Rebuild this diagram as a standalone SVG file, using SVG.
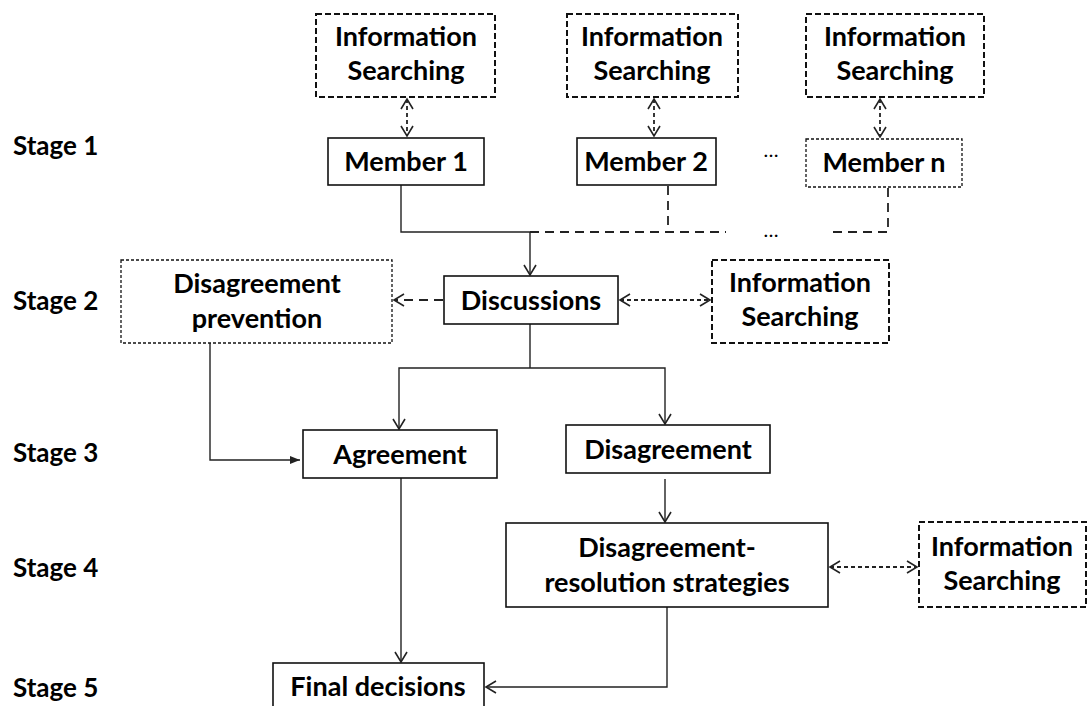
<svg xmlns="http://www.w3.org/2000/svg" width="1087" height="706" viewBox="0 0 1087 706">
  <style>
    text { font-family: Lato, "Open Sans", "Liberation Sans", sans-serif; font-weight: bold; font-size: 27px; fill: #000; }
    .stage { font-size: 26px; }
    .c { text-anchor: middle; }
    .dots { font-size: 20px; font-weight: normal; }
    .box { fill: #fff; stroke: #111; stroke-width: 1.6; }
    .info { fill: #fff; stroke: #111; stroke-width: 2; stroke-dasharray: 6 3; }
    .fine { fill: #fff; stroke: #111; stroke-width: 1.3; stroke-dasharray: 3 2; }
    .ln { fill: none; stroke: #222; stroke-width: 1.4; }
    .dash { fill: none; stroke: #222; stroke-width: 1.8; stroke-dasharray: 9 6; }
    .dot { fill: none; stroke: #222; stroke-width: 1.8; stroke-dasharray: 4 3; }
  </style>
  <defs>
    <marker id="open" markerUnits="userSpaceOnUse" markerWidth="14" markerHeight="14" viewBox="0 0 14 14" refX="12" refY="7" orient="auto-start-reverse">
      <path d="M2,1 L12,7 L2,13" fill="none" stroke="#222" stroke-width="1.6"/>
    </marker>
    <marker id="solid" markerUnits="userSpaceOnUse" markerWidth="12" markerHeight="12" viewBox="0 0 12 12" refX="11" refY="6" orient="auto">
      <path d="M1,2 L11,6 L1,10 Z" fill="#222"/>
    </marker>
  </defs>

  <!-- stage labels -->
  <g id="stages">
    <text class="stage" x="13" y="155">Stage 1</text>
    <text class="stage" x="13" y="310">Stage 2</text>
    <text class="stage" x="13" y="462">Stage 3</text>
    <text class="stage" x="13" y="577">Stage 4</text>
    <text class="stage" x="13" y="697">Stage 5</text>
  </g>

  <!-- connectors -->
  <g id="connectors">
    <!-- information searching <-> members -->
    <line class="dot" x1="407" y1="99" x2="407" y2="136" marker-start="url(#open)" marker-end="url(#open)"/>
    <line class="dot" x1="654" y1="99" x2="654" y2="136" marker-start="url(#open)" marker-end="url(#open)"/>
    <line class="dot" x1="880" y1="99" x2="880" y2="137" marker-start="url(#open)" marker-end="url(#open)"/>
    <!-- members merging into discussions -->
    <polyline class="ln" points="401,185 401,232 530,232"/>
    <polyline class="dash" points="668,186 668,232"/>
    <line class="dash" x1="530" y1="232" x2="726" y2="232"/>
    <polyline class="dash" points="888,188 888,232 833,232"/>
    <line class="ln" x1="530" y1="232" x2="530" y2="275" marker-end="url(#open)"/>
    <!-- discussions side links -->
    <line class="dash" x1="443" y1="300" x2="394" y2="300" marker-end="url(#open)"/>
    <line class="dot" x1="620" y1="300" x2="710" y2="300" marker-start="url(#open)" marker-end="url(#open)"/>
    <!-- discussions split -->
    <polyline class="ln" points="530,324 530,368"/>
    <polyline class="ln" points="399,429 399,368 665,368 665,424" marker-start="url(#open)" marker-end="url(#open)"/>
    <!-- prevention to agreement -->
    <polyline class="ln" points="210,343 210,460 300,460" marker-end="url(#solid)"/>
    <!-- disagreement to strategies -->
    <line class="ln" x1="665" y1="479" x2="665" y2="522" marker-end="url(#open)"/>
    <line class="dot" x1="830" y1="567" x2="917" y2="567" marker-start="url(#open)" marker-end="url(#open)"/>
    <!-- to final decisions -->
    <line class="ln" x1="401" y1="478" x2="401" y2="662" marker-end="url(#open)"/>
    <polyline class="ln" points="667,607 667,687 486,687" marker-end="url(#open)"/>
  </g>

  <!-- stage 1 -->
  <g id="info1">
    <rect class="info" x="316" y="14" width="179" height="83"/>
    <text class="c" x="406" y="46">Information</text>
    <text class="c" x="406" y="80">Searching</text>
  </g>
  <g id="info2">
    <rect class="info" x="567" y="14" width="171" height="83"/>
    <text class="c" x="652" y="46">Information</text>
    <text class="c" x="652" y="80">Searching</text>
  </g>
  <g id="info3">
    <rect class="info" x="806" y="14" width="178" height="83"/>
    <text class="c" x="895" y="46">Information</text>
    <text class="c" x="895" y="80">Searching</text>
  </g>
  <g id="member1">
    <rect class="box" x="328" y="138" width="156" height="47"/>
    <text class="c" x="406" y="171">Member 1</text>
  </g>
  <g id="member2">
    <rect class="box" x="577" y="138" width="139" height="47"/>
    <text class="c" x="646" y="171">Member 2</text>
  </g>
  <g id="memberN">
    <rect class="fine" x="806" y="139" width="156" height="48"/>
    <text class="c" x="884" y="172">Member n</text>
  </g>
  <g id="ellipses">
    <text class="c dots" x="771" y="157">…</text>
    <text class="c dots" x="771" y="237">…</text>
  </g>

  <!-- stage 2 -->
  <g id="prevention">
    <rect class="fine" x="121" y="260" width="271" height="83"/>
    <text class="c" x="257" y="293">Disagreement</text>
    <text class="c" x="257" y="328">prevention</text>
  </g>
  <g id="discussions">
    <rect class="box" x="444" y="276" width="174" height="48"/>
    <text class="c" x="531" y="310">Discussions</text>
  </g>
  <g id="info4">
    <rect class="info" x="712" y="260" width="177" height="83"/>
    <text class="c" x="800" y="292">Information</text>
    <text class="c" x="800" y="326">Searching</text>
  </g>

  <!-- stage 3 -->
  <g id="agreement">
    <rect class="box" x="303" y="430" width="194" height="48"/>
    <text class="c" x="400" y="464">Agreement</text>
  </g>
  <g id="disagreement">
    <rect class="box" x="566" y="425" width="204" height="48"/>
    <text class="c" x="668" y="459">Disagreement</text>
  </g>

  <!-- stage 4 -->
  <g id="strategies">
    <rect class="box" x="506" y="523" width="322" height="84"/>
    <text class="c" x="667" y="557">Disagreement-</text>
    <text class="c" x="667" y="592">resolution strategies</text>
  </g>
  <g id="info5">
    <rect class="info" x="919" y="522" width="167" height="85"/>
    <text class="c" x="1002" y="556">Information</text>
    <text class="c" x="1002" y="590">Searching</text>
  </g>

  <!-- stage 5 -->
  <g id="final">
    <rect class="box" x="273" y="663" width="211" height="50"/>
    <text class="c" x="378" y="696">Final decisions</text>
  </g>
</svg>
